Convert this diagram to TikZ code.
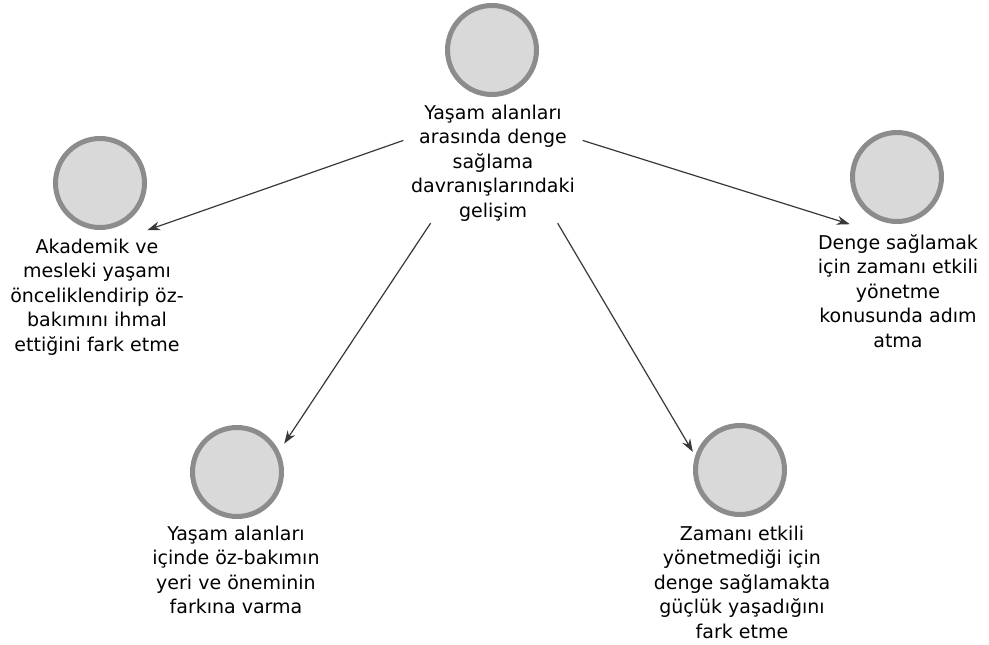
\documentclass[tikz,border=0pt]{standalone}
\usepackage{fontspec}
\setmainfont{DejaVu Sans}
\usepackage{xcolor}
\usepackage{tikz}
\usetikzlibrary{arrows.meta,positioning}
\definecolor{ringgray}{HTML}{8C8C8C}
\definecolor{bubblegray}{HTML}{D9D9D9}
\definecolor{arrowgray}{HTML}{383838}
\tikzset{bubble/.style={rectangle, inner sep=0pt, minimum size=94pt, path picture={\fill[bubblegray] (path picture bounding box.center) circle (45pt); \draw[ringgray, line width=5pt] (path picture bounding box.center) circle (44.5pt);}},
  caption/.style={align=center, inner sep=0pt, inner xsep=8pt, inner ysep=2pt, text=black, font=\fontsize{19}{24.5}\selectfont}}

\begin{document}
\begin{tikzpicture}[x=1pt, y=-1pt, line cap=round, line join=round, >={Stealth[length=13pt,width=9pt]}]
\useasboundingbox (0,0) rectangle (989,645);
\coordinate (m) at (492,50); \coordinate (ak) at (100,183); \coordinate (dn) at (897,177); \coordinate (oz) at (237,472); \coordinate (zm) at (740,470);
\node[bubble] (M) at (m) {}; \node[bubble] (AK) at (ak) {}; \node[bubble] (DN) at (dn) {}; \node[bubble] (OZ) at (oz) {}; \node[bubble] (ZM) at (zm) {};
\node[caption] (MT) at (493,163) {Yaşam alanları\\arasında denge\\sağlama\\davranışlarındaki\\gelişim};
\node[caption] (AKT) at (97,297) {Akademik ve\\mesleki yaşamı\\önceliklendirip öz-\\bakımını ihmal\\ettiğini fark etme};
\node[caption] (DNT) at (898,291) {Denge sağlamak\\için zamanı etkili\\yönetme\\konusunda adım\\atma};
\node[caption] (OZT) at (236,570) {Yaşam alanları\\içinde öz-bakımın\\yeri ve öneminin\\farkına varma};
\node[caption] (ZMT) at (742,582) {Zamanı etkili\\yönetmediği için\\denge sağlamakta\\güçlük yaşadığını\\fark etme};
\draw[->, line width=1.2pt, arrowgray] (MT.166) -- (AK.south east);
\draw[->, line width=1.2pt, arrowgray] (MT.14) -- (DN.south west);
\draw[->, line width=1.2pt, arrowgray] (MT.224) -- (OZ.31);
\draw[->, line width=1.2pt, arrowgray] (MT.317) -- (ZM.159);
\end{tikzpicture}
\end{document}
